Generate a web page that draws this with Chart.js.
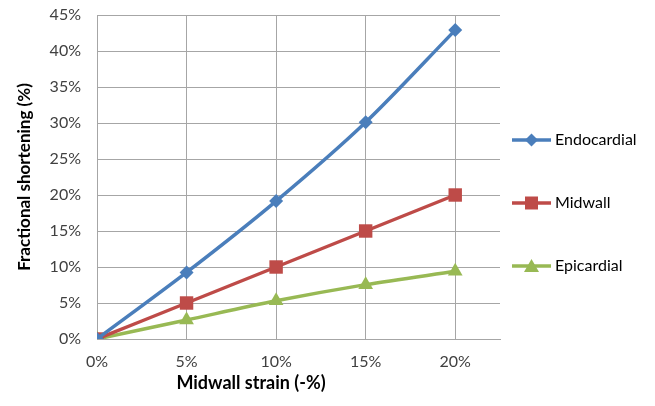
<!DOCTYPE html>
<html>
<head>
<meta charset="utf-8">
<script src="https://cdn.jsdelivr.net/npm/chart.js@4/dist/chart.umd.min.js"></script>
<style>
html,body{margin:0;padding:0;background:#fff;}
#wrap{width:655px;height:406px;position:relative;}
</style>
</head>
<body>
<div id="wrap"><canvas id="c" width="655" height="406"></canvas></div>
<script>
const strain = [0, 5, 10, 15, 20];
const endocardial = [0, 9.25, 19.15, 30.1, 42.9];
const midwall = [0, 5, 10, 15, 20];
const epicardial = [0, 2.65, 5.3, 7.55, 9.4];
const yTicks = [0, 5, 10, 15, 20, 25, 30, 35, 40, 45];
const seriesNames = ['Endocardial', 'Midwall', 'Epicardial'];
const xTitle = 'Midwall strain (-%)';
const yTitle = 'Fractional shortening (%)';

const FONT = 'Lato, "Open Sans", sans-serif';
const colors = ['#4A7EBB', '#BE4B48', '#98B954'];
const styles = ['rectRot', 'rect', 'triangle'];
const radii = [7, 9.5, 8.5];

const series = [endocardial, midwall, epicardial];
const datasets = series.map((vals, i) => ({
  label: seriesNames[i],
  data: strain.map((x, j) => ({x: x, y: vals[j]})),
  borderColor: colors[i],
  backgroundColor: colors[i],
  borderWidth: 3.5,
  pointStyle: styles[i],
  pointRadius: radii[i],
  pointHoverRadius: radii[i],
  pointBorderWidth: 0,
  tension: 0.3
}));

function drawMarker(g, style, cx, cy, color) {
  g.fillStyle = color;
  g.beginPath();
  if (style === 'rectRot') { g.moveTo(cx, cy - 6.5); g.lineTo(cx + 6.5, cy); g.lineTo(cx, cy + 6.5); g.lineTo(cx - 6.5, cy); }
  else if (style === 'rect') { g.rect(cx - 6.5, cy - 6.5, 13, 13); }
  else { g.moveTo(cx, cy - 7); g.lineTo(cx + 7.5, cy + 6); g.lineTo(cx - 7.5, cy + 6); }
  g.closePath(); g.fill();
}

const extrasPlugin = {
  id: 'extras',
  afterDraw(chart) {
    const ctx = chart.ctx;
    const xs = chart.scales.x;
    const area = chart.chartArea;
    ctx.save();
    ctx.font = 'bold 18px ' + FONT;
    ctx.fillStyle = '#000';
    ctx.textAlign = 'center';
    ctx.textBaseline = 'middle';
    ctx.fillText(xTitle, xs.getPixelForValue(8.6), 383);
    const midY = chart.height / 2;
    ctx.font = '16px ' + FONT;
    ctx.textAlign = 'left';
    chart.data.datasets.forEach((d, i) => {
      const y = midY + (i - 1) * 63;
      const x0 = area.right + 12;
      ctx.strokeStyle = d.borderColor;
      ctx.lineWidth = 3.5;
      ctx.beginPath(); ctx.moveTo(x0, y); ctx.lineTo(x0 + 39, y); ctx.stroke();
      drawMarker(ctx, d.pointStyle, x0 + 19.5, y, d.borderColor);
      ctx.fillStyle = '#000';
      ctx.fillText(d.label, x0 + 43, y);
    });
    ctx.restore();
  }
};

new Chart(document.getElementById('c'), {
  type: 'line',
  data: { datasets: datasets },
  plugins: [extrasPlugin],
  options: {
    responsive: false,
    animation: false,
    layout: { padding: { top: 15, right: 155, left: 0, bottom: 0 } },
    plugins: {
      tooltip: { enabled: false },
      legend: { display: false }
    },
    scales: {
      x: {
        type: 'linear',
        min: 0,
        max: 22.5,
        afterBuildTicks(s) { s.ticks = strain.map(v => ({value: v})); },
        afterFit(s) { s.height = 67; s.paddingLeft = 0; s.paddingRight = 0; },
        grid: { color: '#A6A6A6', lineWidth: 1, drawTicks: false },
        border: { color: '#A6A6A6' },
        ticks: {
          padding: 13,
          color: '#404040',
          font: { family: FONT, size: 16 },
          callback: v => v + '%'
        },
        title: { display: false }
      },
      y: {
        min: 0,
        max: 45,
        afterBuildTicks(s) { s.ticks = yTicks.map(v => ({value: v})); },
        afterFit(s) { s.width = 97; s.paddingTop = 0; s.paddingBottom = 0; },
        grid: { color: '#A6A6A6', lineWidth: 1, drawTicks: false },
        border: { color: '#A6A6A6' },
        ticks: {
          padding: 16,
          color: '#404040',
          font: { family: FONT, size: 16 },
          callback: v => v + '%'
        },
        title: {
          display: true,
          text: yTitle,
          color: '#000',
          font: { family: FONT, size: 17, weight: 'bold' },
          padding: { top: 14, bottom: 0 }
        }
      }
    }
  }
});
</script>
</body>
</html>
